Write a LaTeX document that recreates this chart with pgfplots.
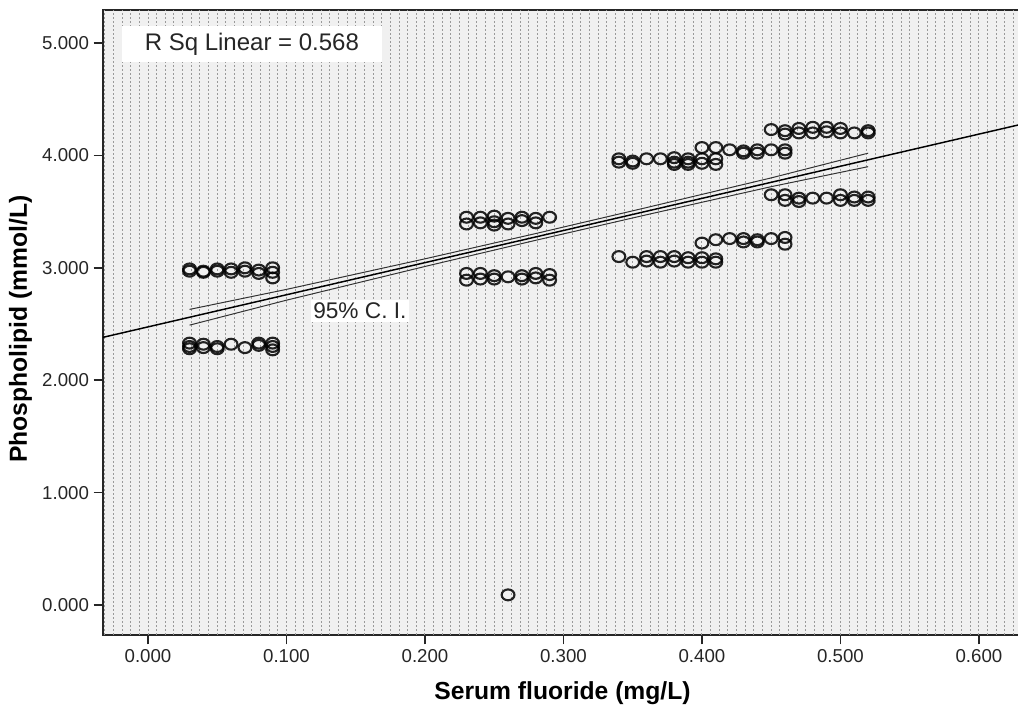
\documentclass[border=0pt]{standalone}
\usepackage{pgfplots}
\pgfplotsset{compat=1.18}
\usepackage{fontspec}
\setmainfont{Liberation Sans}
\begin{document}
\begin{tikzpicture}
\begin{axis}[
  scale only axis,
  width=689.25pt, height=468.75pt,
  xmin=-0.0325, xmax=0.6311, ymin=-0.267, ymax=5.294,
  axis background/.style={fill=black!6},
  axis line style={black!85, line width=1.1pt},
  xtick={0,0.1,0.2,0.3,0.4,0.5,0.6},
  ytick={0,1,2,3,4,5},
  xtick pos=left, ytick pos=left,
  tick align=outside,
  major tick length=7pt,
  tick style={black!85, line width=1.1pt},
  /pgf/number format/fixed,
  /pgf/number format/fixed zerofill,
  /pgf/number format/precision=3,
  /pgf/number format/assume math mode=true,
  tick label style={font=\fontsize{14}{16}\selectfont, text=black!85},
  extra x ticks={-0.03125,-0.025,...,0.63125},
  extra x tick labels={},
  extra x tick style={grid=major, tick style={draw=none},
    major grid style={black!40, line width=0.75pt, dash pattern=on 1.5pt off 1.5pt}},
  every axis x label/.style={at={([yshift=-48.75pt]axis description cs:0.5,0)}, anchor=base},
  every axis y label/.style={at={([xshift=-57pt,yshift=-5pt]axis description cs:0,0.5)}, rotate=90, anchor=base},
  label style={font=\fontsize{18.5}{20}\selectfont\bfseries},
  xlabel={Serum fluoride (mg/L)},
  ylabel={Phospholipid (mmol/L)},
]
\coordinate (bl) at (rel axis cs:0,0);
\coordinate (tl) at (rel axis cs:0,1);
% fit line
\addplot[black, line width=1.1pt] coordinates {(-0.04,2.360) (0.64,4.304)};
% 95% CI
\addplot[black!80, line width=0.75pt] coordinates {(0.03,2.630) (0.10,2.808) (0.20,3.080) (0.28,3.305) (0.36,3.536) (0.45,3.800) (0.52,4.020)};
\addplot[black!80, line width=0.75pt] coordinates {(0.03,2.490) (0.10,2.712) (0.20,3.012) (0.28,3.245) (0.36,3.472) (0.45,3.722) (0.52,3.900)};
% data
\addplot[only marks, mark=o, mark size=4.8pt,
  mark options={draw=black, draw opacity=0.85, line width=1.6pt, yscale=0.85}]
coordinates {
(0.03,2.97) (0.03,2.99) (0.04,2.97) (0.04,2.96) (0.05,2.99) (0.05,2.97)
(0.06,2.99) (0.06,2.96) (0.07,3.00) (0.07,2.97) (0.08,2.98) (0.08,2.95)
(0.09,3.00) (0.09,2.96) (0.09,2.91)
(0.03,2.33) (0.03,2.28) (0.03,2.30) (0.04,2.32) (0.04,2.29) (0.05,2.30) (0.05,2.28)
(0.06,2.32) (0.07,2.29) (0.08,2.33) (0.08,2.31) (0.09,2.33) (0.09,2.30) (0.09,2.27)
(0.23,3.45) (0.23,3.39) (0.24,3.45) (0.24,3.40) (0.25,3.46) (0.25,3.41) (0.25,3.38)
(0.26,3.44) (0.26,3.39) (0.27,3.45) (0.27,3.42) (0.28,3.44) (0.28,3.40) (0.29,3.45)
(0.23,2.95) (0.23,2.89) (0.24,2.95) (0.24,2.90) (0.25,2.93) (0.25,2.90) (0.26,2.92)
(0.27,2.93) (0.27,2.90) (0.28,2.95) (0.28,2.91) (0.29,2.94) (0.29,2.89)
(0.34,3.97) (0.34,3.94) (0.35,3.95) (0.35,3.93) (0.36,3.97) (0.37,3.97)
(0.38,3.98) (0.38,3.94) (0.38,3.92) (0.39,3.97) (0.39,3.94) (0.39,3.92)
(0.40,4.07) (0.40,3.97) (0.40,3.93) (0.41,4.07) (0.41,3.97) (0.41,3.92)
(0.42,4.05) (0.43,4.04) (0.43,4.02) (0.44,4.05) (0.44,4.02) (0.45,4.05) (0.46,4.05) (0.46,4.02)
(0.45,4.23) (0.46,4.22) (0.46,4.19) (0.47,4.24) (0.47,4.20) (0.48,4.25) (0.48,4.20)
(0.49,4.25) (0.49,4.21) (0.50,4.24) (0.50,4.20) (0.51,4.20) (0.52,4.22) (0.52,4.20)
(0.34,3.10) (0.35,3.05) (0.36,3.10) (0.36,3.06) (0.37,3.10) (0.37,3.05)
(0.38,3.10) (0.38,3.06) (0.39,3.09) (0.39,3.05) (0.40,3.09) (0.40,3.05) (0.40,3.22)
(0.41,3.08) (0.41,3.05) (0.41,3.25) (0.42,3.26) (0.43,3.26) (0.43,3.23)
(0.44,3.25) (0.44,3.23) (0.45,3.26) (0.46,3.27) (0.46,3.21)
(0.45,3.65) (0.46,3.65) (0.46,3.60) (0.47,3.62) (0.47,3.59) (0.48,3.62) (0.49,3.62)
(0.50,3.65) (0.50,3.60) (0.51,3.63) (0.51,3.60) (0.52,3.63) (0.52,3.60)
(0.26,0.09)
};
\node[fill=white, minimum width=195pt, minimum height=27pt, inner sep=0pt,
  font=\fontsize{18}{20}\selectfont, text=black!85] at (axis cs:0.075,4.99) {R Sq Linear = 0.568};
\node[fill=white, inner sep=2pt, font=\fontsize{17}{19}\selectfont, text=black!85]
  at (axis cs:0.153,2.616) {95\% C. I.};
\end{axis}
\pgfresetboundingbox
\path[use as bounding box] ([shift={(-77.25pt,-53.25pt)}]bl) rectangle ([shift={(686.25pt,7.5pt)}]tl);
\end{tikzpicture}
\end{document}
